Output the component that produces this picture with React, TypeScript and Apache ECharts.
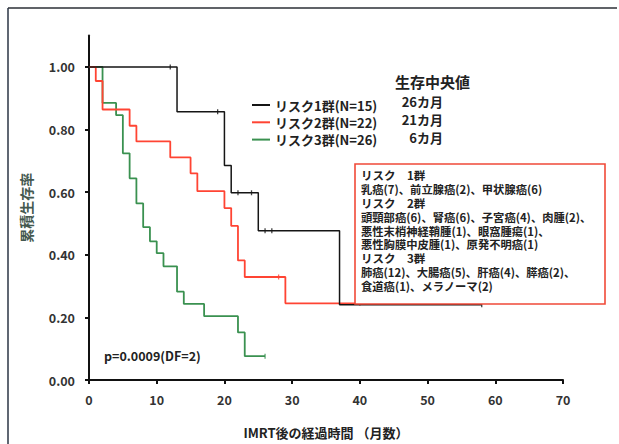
import { useEffect, useRef } from 'react';
import * as echarts from 'echarts';

// Kaplan–Meier curves after IMRT, by risk group (months, cumulative survival)
const risk1Months = [0, 13, 20, 21, 25, 37, 58];
const risk1Surv = [1.0, 0.857, 0.685, 0.598, 0.477, 0.24, 0.24];
const risk1Censored = [12, 19, 22, 24, 26, 27, 58];

const risk2Months = [0, 1, 2, 6, 7, 12, 15, 16, 20, 21, 22, 23, 29, 40];
const risk2Surv = [1.0, 0.955, 0.864, 0.812, 0.762, 0.711, 0.66, 0.603, 0.549, 0.492, 0.382, 0.329, 0.245, 0.245];
const risk2Censored = [28, 40];

const risk3Months = [0, 2, 4, 5, 6, 7, 8, 9, 10, 11, 13, 14, 17, 22, 23, 26];
const risk3Surv = [1.0, 0.885, 0.846, 0.724, 0.644, 0.564, 0.488, 0.443, 0.405, 0.363, 0.282, 0.243, 0.204, 0.152, 0.076, 0.076];
const risk3Censored = [26];

const groupNames = ['リスク1群(N=15)', 'リスク2群(N=22)', 'リスク3群(N=26)'];
const medianLabels = ['26カ月', '21カ月', '6カ月'];
const groupColors = ['#151515', '#ff4433', '#3a9150'];

const xTicks = [0, 10, 20, 30, 40, 50, 60, 70];
const yTicks = [0, 0.2, 0.4, 0.6, 0.8, 1.0];

const noteHeadings = ['リスク　1群', 'リスク　2群', 'リスク　3群'];
const noteLines = [
  [noteHeadings[0], true],
  ['乳癌(7)、前立腺癌(2)、甲状腺癌(6)', false],
  [noteHeadings[1], true],
  ['頭頸部癌(6)、腎癌(6)、子宮癌(4)、肉腫(2)、', false],
  ['悪性末梢神経鞘腫(1)、眼窩腫瘍(1)、', false],
  ['悪性胸膜中皮腫(1)、原発不明癌(1)', false],
  [noteHeadings[2], true],
  ['肺癌(12)、大腸癌(5)、肝癌(4)、膵癌(2)、', false],
  ['食道癌(1)、メラノーマ(2)', false],
] as [string, boolean][];

const pValueText = 'p=0.0009(DF=2)';
const medianTitle = '生存中央値';

const FONT = '"Noto Sans CJK JP", "Noto Sans", sans-serif';

function stepValue(months: number[], surv: number[], t: number) {
  let v = surv[0];
  for (let i = 0; i < months.length; i++) {
    if (months[i] <= t) v = surv[i];
  }
  return v;
}

function curve(months: number[], surv: number[]) {
  return months.map((m, i) => [m, surv[i]]);
}

function censorMarks(months: number[], surv: number[], cens: number[]) {
  return cens.map((t) => [t, stepValue(months, surv, t)]);
}

export default function App() {
  const ref = useRef<HTMLDivElement>(null);

  useEffect(() => {
    if (!ref.current) return;
    const chart = echarts.init(ref.current, null, { renderer: 'svg' });

    const groups = [
      [risk1Months, risk1Surv, risk1Censored],
      [risk2Months, risk2Surv, risk2Censored],
      [risk3Months, risk3Surv, risk3Censored],
    ] as [number[], number[], number[]][];

    const lineSeries = groups.map(([m, s], i) => ({
      type: 'line',
      name: groupNames[i],
      step: 'end',
      data: curve(m, s),
      showSymbol: false,
      symbol: 'none',
      z: 3 - i,
      lineStyle: { color: groupColors[i], width: i === 0 ? 1.5 : 1.8 },
      itemStyle: { color: groupColors[i] },
    }));

    const censorSeries = groups.map(([m, s, c], i) => ({
      type: 'scatter',
      name: groupNames[i] + ' censored',
      data: censorMarks(m, s, c),
      symbol: 'rect',
      symbolSize: [1.3, 5],
      z: 3 - i,
      itemStyle: { color: groupColors[i] },
    }));

    const medianGraphics = medianLabels.map((t, i) => ({
      type: 'text',
      x: 443,
      y: 101 + i * 18.3,
      style: {
        text: t,
        font: `bold 13px ${FONT}`,
        fill: '#222',
        align: 'right',
        verticalAlign: 'middle',
      },
    }));

    // case-mix note: one multi-line rich text block
    const noteText = noteLines
      .map(([t, heading]) => `{${heading ? 'h' : 'b'}|${t}}`)
      .join('\n');

    chart.setOption({
      animation: false,
      backgroundColor: '#ffffff',
      grid: { left: 89, right: 56, top: 35.6, bottom: 52, containLabel: false },
      legend: {
        data: groupNames,
        orient: 'vertical',
        left: 247,
        top: 93.5,
        itemWidth: 18,
        itemHeight: 14,
        itemGap: 4.3,
        icon: 'path://M0,6 L18,6 L18,8 L0,8 Z',
        textStyle: { fontFamily: FONT, fontWeight: 'bold', fontSize: 13, color: '#222' },
      },
      xAxis: {
        type: 'value',
        min: 0,
        max: 70,
        interval: 10,
        name: 'IMRT後の経過時間 （月数）',
        nameLocation: 'middle',
        nameGap: 46,
        nameTextStyle: { fontFamily: FONT, fontWeight: 'bold', fontSize: 13, color: '#222' },
        axisLine: { show: true, lineStyle: { color: '#111', width: 2 } },
        axisTick: { show: true, length: 4, lineStyle: { color: '#111', width: 2 } },
        axisLabel: {
          customValues: xTicks,
          margin: 13,
          fontFamily: FONT,
          fontWeight: 'bold',
          fontSize: 12.5,
          color: '#333',
        },
        splitLine: { show: false },
      },
      yAxis: {
        type: 'value',
        min: 0,
        max: 1.1,
        interval: 0.2,
        name: '累積生存率',
        nameLocation: 'middle',
        nameGap: 56,
        nameRotate: 90,
        nameTextStyle: { fontFamily: FONT, fontWeight: 'bold', fontSize: 14, color: '#44584f' },
        axisLine: { show: true, lineStyle: { color: '#111', width: 2 } },
        axisTick: { show: true, length: 4, customValues: yTicks, lineStyle: { color: '#111', width: 2 } },
        axisLabel: {
          customValues: yTicks,
          margin: 14,
          formatter: (v: number) => v.toFixed(2),
          fontFamily: FONT,
          fontWeight: 'bold',
          fontSize: 12.5,
          color: '#333',
        },
        splitLine: { show: false },
      },
      series: [...lineSeries, ...censorSeries],
      graphic: [
        // slide frame
        { type: 'line', shape: { x1: 8, y1: 8, x2: 617, y2: 8 }, style: { stroke: '#2b2f36', lineWidth: 1.5 } },
        { type: 'line', shape: { x1: 8, y1: 8, x2: 8, y2: 444 }, style: { stroke: '#2b3444', lineWidth: 1.5 } },
        {
          type: 'text',
          x: 395,
          y: 81,
          style: { text: medianTitle, font: `bold 15px ${FONT}`, fill: '#222', align: 'left', verticalAlign: 'middle' },
        },
        ...medianGraphics,
        {
          type: 'text',
          x: 104,
          y: 355,
          style: { text: pValueText, font: `bold 12.5px ${FONT}`, fill: '#222', align: 'left', verticalAlign: 'middle' },
        },
        {
          type: 'rect',
          shape: { x: 355, y: 164, width: 250, height: 140 },
          style: { fill: '#ffffff', stroke: '#f04a38', lineWidth: 1.6 },
          z: 10,
        },
        {
          type: 'text',
          x: 361,
          y: 168,
          z: 11,
          style: {
            text: noteText,
            align: 'left',
            verticalAlign: 'top',
            fill: '#222',
            rich: {
              h: { fontFamily: FONT, fontWeight: 'bold', fontSize: 11.5, lineHeight: 13.9, fill: '#222' },
              b: { fontFamily: FONT, fontWeight: 'bold', fontSize: 11.3, lineHeight: 13.9, fill: '#222' },
            },
          },
        },
      ],
    });

    return () => chart.dispose();
  }, []);

  return (
    <div
      ref={ref}
      style={{ position: 'absolute', left: 0, top: 0, width: 619, height: 444, background: '#fff' }}
    />
  );
}
